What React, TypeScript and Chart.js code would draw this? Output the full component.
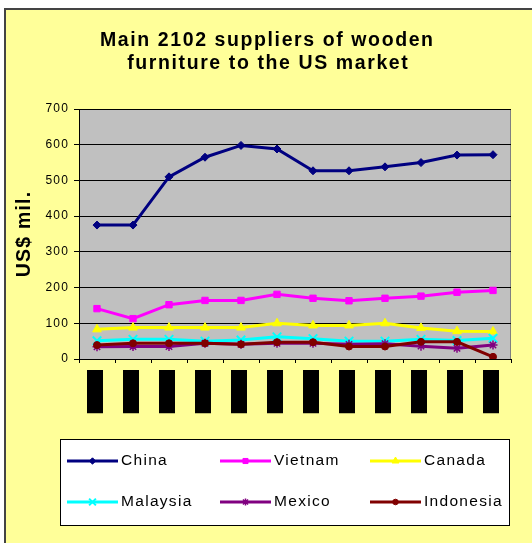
import React, { useEffect, useRef } from 'react';
import { Chart, registerables } from 'chart.js';

Chart.register(...registerables);

// ---- data ----
const periods = ['1996', '1997', '1998', '1999', '2000', '2001', '2002', '2003', '2004', '2005', '2006', '2007'];
const seriesNames = ['China', 'Vietnam', 'Canada', 'Malaysia', 'Mexico', 'Indonesia'];
const china = [375, 375, 510, 565, 598, 588, 527, 527, 538, 550, 571, 572];
const vietnam = [141, 113, 152, 164, 164, 181, 170, 163, 170, 176, 187, 192];
const canada = [83, 88, 88, 88, 88, 100, 94, 94, 100, 87, 78, 77];
const malaysia = [51, 55, 55, 50, 53, 62, 57, 50, 50, 55, 52, 58];
const mexico = [34, 35, 35, 44, 41, 44, 44, 41, 43, 36, 30, 39];
const indonesia = [39, 44, 44, 44, 41, 47, 47, 35, 35, 48, 48, 6];
const yMin = 0;
const yMax = 700;
const yStep = 100;
const titleLines = ['Main 2102 suppliers of wooden', 'furniture to the US market'];
const yTitle = 'US$ mil.';

const FONT = 'Arial, "Liberation Sans", sans-serif';

const styles = [
  { color: '#000080', point: 'rectRot', r: 4, pw: 1 },
  { color: '#FF00FF', point: 'rect', r: 4.5, pw: 1 },
  { color: '#FFFF00', point: 'triangle', r: 5, pw: 1 },
  { color: '#00FFFF', point: 'crossRot', r: 6, pw: 2 },
  { color: '#800080', point: 'star', r: 4.5, pw: 1.5 },
  { color: '#800000', point: 'circle', r: 3.5, pw: 1 },
];

function drawMarker(ctx: CanvasRenderingContext2D, style: string, x: number, y: number, r: number, color: string, lw: number) {
  ctx.save();
  ctx.fillStyle = color;
  ctx.strokeStyle = color;
  ctx.lineWidth = lw;
  ctx.beginPath();
  if (style === 'rectRot') {
    ctx.moveTo(x, y - r); ctx.lineTo(x + r, y); ctx.lineTo(x, y + r); ctx.lineTo(x - r, y); ctx.closePath();
    ctx.fill(); ctx.stroke();
  } else if (style === 'rect') {
    const s = r / Math.SQRT2;
    ctx.rect(x - s, y - s, 2 * s, 2 * s); ctx.fill(); ctx.stroke();
  } else if (style === 'triangle') {
    ctx.moveTo(x, y - r); ctx.lineTo(x + r * 0.866, y + r * 0.5); ctx.lineTo(x - r * 0.866, y + r * 0.5); ctx.closePath();
    ctx.fill(); ctx.stroke();
  } else if (style === 'crossRot') {
    const o = r * 0.707;
    ctx.moveTo(x - o, y - o); ctx.lineTo(x + o, y + o); ctx.moveTo(x + o, y - o); ctx.lineTo(x - o, y + o);
    ctx.stroke();
  } else if (style === 'star') {
    const o = r * 0.707;
    ctx.moveTo(x - r, y); ctx.lineTo(x + r, y); ctx.moveTo(x, y - r); ctx.lineTo(x, y + r);
    ctx.moveTo(x - o, y - o); ctx.lineTo(x + o, y + o); ctx.moveTo(x + o, y - o); ctx.lineTo(x - o, y + o);
    ctx.stroke();
  } else {
    ctx.arc(x, y, r, 0, Math.PI * 2); ctx.fill(); ctx.stroke();
  }
  ctx.restore();
}

const framePlugin = {
  id: 'frame',
  beforeDraw(chart: any) {
    const { ctx, chartArea: a } = chart;
    ctx.save();
    ctx.fillStyle = '#C0C0C0';
    ctx.fillRect(a.left, a.top, a.right - a.left, a.bottom - a.top);
    ctx.strokeStyle = '#808080';
    ctx.lineWidth = 1;
    ctx.strokeRect(a.left + 0.5, a.top + 0.5, a.right - a.left - 1, a.bottom - a.top);
    ctx.restore();
    ctx.letterSpacing = '1.2px';
  },
  afterDraw(chart: any) {
    const ctx: CanvasRenderingContext2D = chart.ctx;
    ctx.letterSpacing = '0px';
    // title
    ctx.save();
    ctx.font = `bold 19.5px ${FONT}`;
    (ctx as any).letterSpacing = '1.6px';
    ctx.fillStyle = '#000';
    ctx.textAlign = 'center';
    ctx.textBaseline = 'alphabetic';
    ctx.fillText(titleLines[0], 267.3, 46);
    ctx.fillText(titleLines[1], 268.3, 68.5);
    ctx.restore();

    // legend
    ctx.save();
    ctx.fillStyle = '#FFFFFF';
    ctx.fillRect(60, 439, 449, 86);
    ctx.strokeStyle = '#000';
    ctx.lineWidth = 1;
    ctx.strokeRect(60.5, 439.5, 449, 86);
    const colX = [67, 220, 370];
    const rowY = [461, 502];
    ctx.font = `15.5px ${FONT}`;
    (ctx as any).letterSpacing = '1.3px';
    ctx.textBaseline = 'middle';
    ctx.textAlign = 'left';
    chart.data.datasets.forEach((ds: any, i: number) => {
      const x0 = colX[i % 3];
      const y0 = rowY[Math.floor(i / 3)];
      ctx.strokeStyle = ds.borderColor;
      ctx.lineWidth = 3;
      ctx.beginPath();
      ctx.moveTo(x0, y0);
      ctx.lineTo(x0 + 51, y0);
      ctx.stroke();
      const st = styles[i];
      drawMarker(ctx, st.point, x0 + 25.5, y0, st.r * 0.8, st.color, st.pw);
      ctx.fillStyle = '#000';
      ctx.fillText(ds.label, x0 + 54, y0);
    });
    ctx.restore();
  },
};

export default function App() {
  const ref = useRef<HTMLCanvasElement>(null);
  useEffect(() => {
    if (!ref.current) return;
    const values = [china, vietnam, canada, malaysia, mexico, indonesia];
    const chart = new Chart(ref.current, {
      type: 'line',
      data: {
        labels: periods,
        datasets: values.map((v, i) => ({
          label: seriesNames[i],
          data: v,
          borderColor: styles[i].color,
          backgroundColor: styles[i].color,
          borderWidth: 3,
          pointStyle: styles[i].point as any,
          pointRadius: styles[i].r,
          pointBorderWidth: styles[i].pw,
          pointBackgroundColor: styles[i].color,
          pointBorderColor: styles[i].color,
          tension: 0,
          order: values.length - i,
        })),
      },
      options: {
        animation: false,
        responsive: false,
        devicePixelRatio: 1,
        layout: { padding: { top: 109, left: 0, right: 21, bottom: 124 } },
        plugins: {
          legend: { display: false },
          title: { display: false },
          tooltip: { enabled: false },
        },
        scales: {
          x: {
            offset: true,
            grid: { drawOnChartArea: false, drawTicks: true, tickLength: 4, tickColor: '#000', offset: true },
            border: { color: '#000', width: 1 },
            ticks: {
              autoSkip: false,
              minRotation: 90,
              maxRotation: 90,
              color: '#000',
              padding: 9,
              font: { family: FONT, size: 10, lineHeight: '1px' },
              showLabelBackdrop: true,
              backdropColor: '#000',
              backdropPadding: { top: 10, bottom: 5, left: 19, right: 2 },
            } as any,
            afterFit: (s: any) => { s.height = 60; },
          },
          y: {
            min: yMin,
            max: yMax,
            ticks: { stepSize: yStep, color: '#000', padding: 5, font: { family: FONT, size: 12 } },
            grid: { color: '#000', lineWidth: 1, tickLength: 5, tickColor: '#000' },
            border: { color: '#000', width: 1 },
            title: {
              display: true,
              text: yTitle,
              color: '#000',
              font: { family: FONT, size: 19.5, weight: 'bold' },
              padding: { top: 13, bottom: 0 },
            },
            afterFit: (s: any) => { s.width = 79; },
          },
        },
      },
      plugins: [framePlugin],
    });
    return () => chart.destroy();
  }, []);
  return (
    <div style={{ position: 'fixed', left: 0, top: 0, width: 532, height: 543, background: '#fff', overflow: 'hidden' }}>
      <div style={{ position: 'absolute', left: 4, top: 8, width: 600, height: 600, background: '#FFFF99', borderLeft: '2px solid #444', borderTop: '2px solid #444' }} />
      <canvas ref={ref} width={532} height={543} style={{ position: 'absolute', left: 0, top: 0 }} />
    </div>
  );
}
